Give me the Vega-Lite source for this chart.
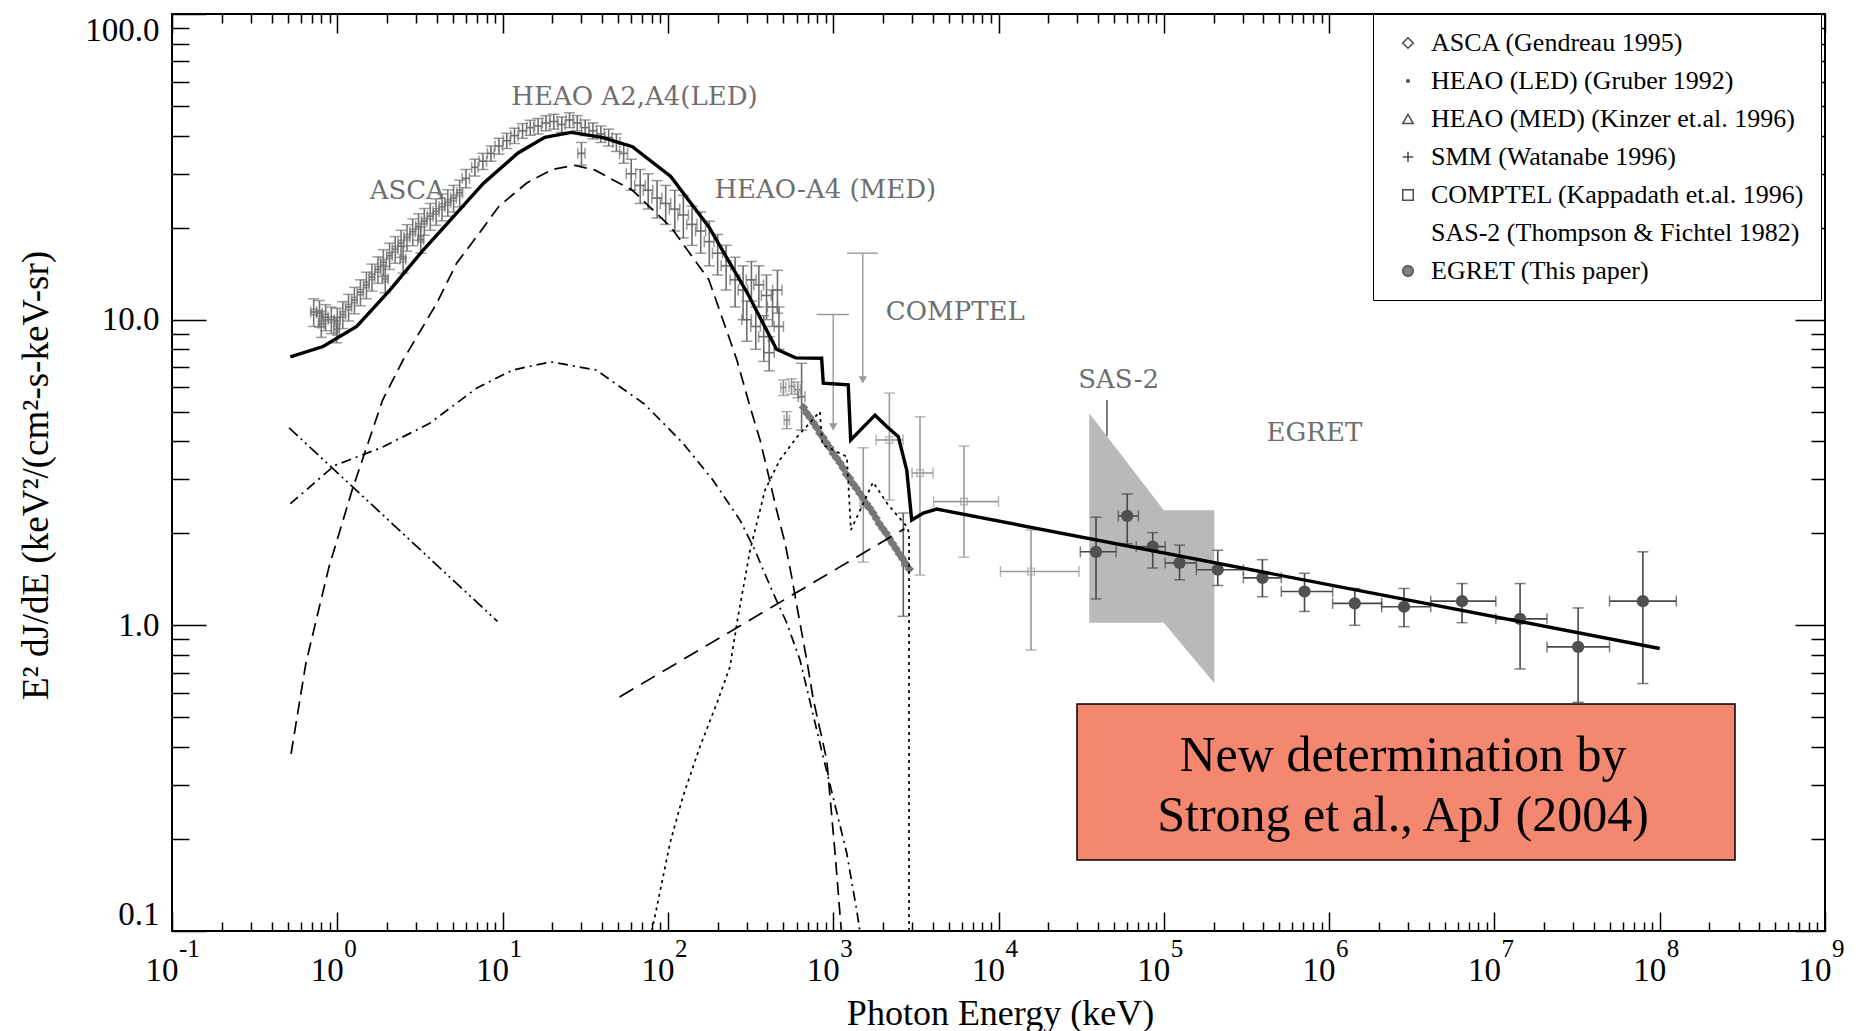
{
"$schema": "https://vega.github.io/schema/vega-lite/v6.json",
"width": 1653, "height": 917,
"autosize": {"type": "none"},
"padding": {"left": 172, "top": 14, "right": 45, "bottom": 100},
"background": "white",
"config": {
  "view": {"stroke": "black", "strokeWidth": 2},
  "axis": {"grid": false, "domain": false, "tickColor": "black", "tickWidth": 1.5, "labelColor": "black", "titleColor": "black", "labelFont": "Liberation Serif", "titleFont": "Liberation Serif", "titleFontWeight": "normal", "labelOverlap": false, "labelBound": false}
},
"datasets": {
  "sas": [{"e": 35400, "ft": 4.94, "fb": 1.02}, {"e": 100000, "ft": 2.38, "fb": 1.02}, {"e": 202000, "ft": 2.38, "fb": 0.646}],
  "ptr": [{"e": 45300, "ft": 5.46, "fb": 4.16}],
  "ul": [{"e": 1000, "ft": 10.4, "fb": 4.46, "el": 794, "eh": 1247}, {"e": 1510, "ft": 16.5, "fb": 6.35, "el": 1211, "eh": 1866}],
  "err": [
    {"s":"ASCA","e":0.72,"f":10.6,"el":0.69,"eh":0.75,"fl":9.5,"fh":11.7},
    {"s":"ASCA","e":0.78,"f":10.5,"el":0.75,"eh":0.81,"fl":9.45,"fh":11.55},
    {"s":"ASCA","e":0.8,"f":9.7,"el":0.77,"eh":0.83,"fl":8.75,"fh":10.65},
    {"s":"ASCA","e":0.85,"f":10.2,"el":0.82,"eh":0.88,"fl":9.2,"fh":11.2},
    {"s":"ASCA","e":0.92,"f":10.0,"el":0.88,"eh":0.96,"fl":9.0,"fh":11.0},
    {"s":"ASCA","e":0.99,"f":9.3,"el":0.95,"eh":1.03,"fl":8.4,"fh":10.2},
    {"s":"ASCA","e":1.0,"f":9.9,"el":0.96,"eh":1.04,"fl":8.9,"fh":10.9},
    {"s":"ASCA","e":1.08,"f":10.4,"el":1.04,"eh":1.12,"fl":9.35,"fh":11.45},
    {"s":"ASCA","e":1.17,"f":11.0,"el":1.12,"eh":1.22,"fl":9.9,"fh":12.1},
    {"s":"ASCA","e":1.27,"f":11.6,"el":1.22,"eh":1.32,"fl":10.45,"fh":12.75},
    {"s":"ASCA","e":1.38,"f":12.3,"el":1.32,"eh":1.44,"fl":11.1,"fh":13.5},
    {"s":"ASCA","e":1.5,"f":13.0,"el":1.44,"eh":1.56,"fl":11.7,"fh":14.3},
    {"s":"ASCA","e":1.62,"f":13.8,"el":1.56,"eh":1.68,"fl":12.4,"fh":15.2},
    {"s":"ASCA","e":1.76,"f":14.6,"el":1.69,"eh":1.83,"fl":13.15,"fh":16.05},
    {"s":"ASCA","e":1.9,"f":15.4,"el":1.82,"eh":1.98,"fl":13.85,"fh":16.95},
    {"s":"ASCA","e":1.95,"f":13.6,"el":1.87,"eh":2.03,"fl":12.25,"fh":14.95},
    {"s":"ASCA","e":2.07,"f":16.2,"el":1.99,"eh":2.15,"fl":14.6,"fh":17.8},
    {"s":"ASCA","e":2.24,"f":17.0,"el":2.15,"eh":2.33,"fl":15.3,"fh":18.7},
    {"s":"ASCA","e":2.43,"f":17.8,"el":2.33,"eh":2.53,"fl":16.0,"fh":19.6},
    {"s":"ASCA","e":2.5,"f":15.8,"el":2.4,"eh":2.6,"fl":14.2,"fh":17.4},
    {"s":"ASCA","e":2.64,"f":18.6,"el":2.53,"eh":2.75,"fl":16.75,"fh":20.45},
    {"s":"ASCA","e":2.86,"f":19.4,"el":2.75,"eh":2.97,"fl":17.45,"fh":21.35},
    {"s":"ASCA","e":3.1,"f":20.2,"el":2.98,"eh":3.22,"fl":18.2,"fh":22.2},
    {"s":"ASCA","e":3.2,"f":18.3,"el":3.07,"eh":3.33,"fl":16.5,"fh":20.1},
    {"s":"ASCA","e":3.36,"f":21.0,"el":3.23,"eh":3.49,"fl":18.9,"fh":23.1},
    {"s":"ASCA","e":3.65,"f":21.8,"el":3.5,"eh":3.8,"fl":19.6,"fh":24.0},
    {"s":"ASCA","e":3.96,"f":22.6,"el":3.8,"eh":4.12,"fl":20.35,"fh":24.85},
    {"s":"ASCA","e":4.3,"f":23.4,"el":4.13,"eh":4.47,"fl":21.05,"fh":25.75},
    {"s":"ASCA","e":4.66,"f":24.2,"el":4.47,"eh":4.85,"fl":21.8,"fh":26.6},
    {"s":"ASCA","e":5.05,"f":25.0,"el":4.85,"eh":5.25,"fl":22.5,"fh":27.5},
    {"s":"ASCA","e":5.5,"f":26.0,"el":5.28,"eh":5.72,"fl":23.4,"fh":28.6},
    {"s":"LED","e":6.0,"f":29,"el":5.7,"eh":6.3,"fl":27,"fh":31},
    {"s":"LED","e":6.8,"f":31.5,"el":6.5,"eh":7.1,"fl":29.5,"fh":33.5},
    {"s":"LED","e":7.6,"f":33,"el":7.2,"eh":8.0,"fl":31,"fh":35},
    {"s":"LED","e":8.5,"f":35,"el":8.1,"eh":8.9,"fl":33,"fh":37},
    {"s":"LED","e":9.5,"f":37,"el":9.0,"eh":10.0,"fl":34.8,"fh":39.2},
    {"s":"LED","e":10.6,"f":38.5,"el":10.1,"eh":11.1,"fl":36.3,"fh":40.7},
    {"s":"LED","e":11.8,"f":40,"el":11.2,"eh":12.4,"fl":37.7,"fh":42.3},
    {"s":"LED","e":13.2,"f":41.5,"el":12.5,"eh":13.9,"fl":39.2,"fh":43.8},
    {"s":"LED","e":14.7,"f":42.5,"el":14.0,"eh":15.4,"fl":40.1,"fh":44.9},
    {"s":"LED","e":16.4,"f":43,"el":15.6,"eh":17.2,"fl":40.5,"fh":45.5},
    {"s":"LED","e":18.3,"f":44,"el":17.4,"eh":19.2,"fl":41.5,"fh":46.5},
    {"s":"LED","e":20.4,"f":44.5,"el":19.4,"eh":21.4,"fl":42,"fh":47},
    {"s":"LED","e":22.8,"f":43.5,"el":21.7,"eh":23.9,"fl":41,"fh":46},
    {"s":"LED","e":25.4,"f":45,"el":24.2,"eh":26.6,"fl":42.5,"fh":47.5},
    {"s":"LED","e":28.3,"f":44,"el":27,"eh":29.6,"fl":41.5,"fh":46.5},
    {"s":"LED","e":30,"f":35,"el":28.5,"eh":31.5,"fl":32,"fh":38},
    {"s":"LED","e":31.6,"f":42.5,"el":30,"eh":33.2,"fl":40,"fh":45},
    {"s":"LED","e":35.2,"f":41.5,"el":33.5,"eh":37,"fl":39,"fh":44},
    {"s":"LED","e":39.3,"f":40.5,"el":37.3,"eh":41.3,"fl":38,"fh":43},
    {"s":"LED","e":43.8,"f":39.5,"el":41.6,"eh":46,"fl":37,"fh":42},
    {"s":"LED","e":48.8,"f":38,"el":46.4,"eh":51.2,"fl":35.5,"fh":40.5},
    {"s":"LED","e":54,"f":35,"el":51,"eh":57,"fl":32.5,"fh":37.5},
    {"s":"MED","e":60,"f":30,"el":56,"eh":64,"fl":26.5,"fh":33.5},
    {"s":"MED","e":68,"f":27.5,"el":63,"eh":73,"fl":24,"fh":31},
    {"s":"MED","e":76,"f":26.5,"el":71,"eh":81,"fl":23,"fh":30},
    {"s":"MED","e":86,"f":25,"el":80,"eh":92,"fl":21.5,"fh":28.5},
    {"s":"MED","e":97,"f":24,"el":90,"eh":104,"fl":20.5,"fh":27.5},
    {"s":"MED","e":110,"f":23,"el":102,"eh":118,"fl":19.5,"fh":26.5},
    {"s":"MED","e":124,"f":22,"el":115,"eh":133,"fl":18.5,"fh":25.5},
    {"s":"MED","e":140,"f":20.5,"el":130,"eh":150,"fl":17.5,"fh":23.5},
    {"s":"MED","e":158,"f":19.5,"el":147,"eh":169,"fl":16.5,"fh":22.5},
    {"s":"MED","e":178,"f":18,"el":166,"eh":190,"fl":15,"fh":21},
    {"s":"MED","e":200,"f":16.5,"el":186,"eh":214,"fl":14,"fh":19},
    {"s":"MED","e":225,"f":15,"el":210,"eh":240,"fl":12.5,"fh":17.5},
    {"s":"MED","e":255,"f":13.5,"el":238,"eh":272,"fl":11,"fh":16},
    {"s":"MED","e":285,"f":12.5,"el":266,"eh":304,"fl":10,"fh":15},
    {"s":"MED","e":300,"f":10,"el":280,"eh":320,"fl":8.5,"fh":11.5},
    {"s":"MED","e":320,"f":13.5,"el":298,"eh":342,"fl":11.5,"fh":15.5},
    {"s":"MED","e":340,"f":9.5,"el":317,"eh":363,"fl":8,"fh":11},
    {"s":"MED","e":355,"f":13,"el":331,"eh":379,"fl":11,"fh":15},
    {"s":"MED","e":380,"f":8.8,"el":354,"eh":406,"fl":7.3,"fh":10.3},
    {"s":"MED","e":395,"f":12,"el":368,"eh":422,"fl":10,"fh":14},
    {"s":"MED","e":410,"f":7.8,"el":380,"eh":440,"fl":6.8,"fh":8.8},
    {"s":"MED","e":430,"f":11,"el":400,"eh":460,"fl":9.5,"fh":12.5},
    {"s":"MED","e":460,"f":12.5,"el":430,"eh":490,"fl":10.5,"fh":14.5},
    {"s":"MED","e":470,"f":9.5,"el":440,"eh":500,"fl":8,"fh":11},
    {"s":"MED","e":644,"f":5.6,"el":615,"eh":675,"fl":4.35,"fh":7.2},
    {"s":"SMMp","e":500,"f":6.0,"el":482,"eh":518,"fl":5.65,"fh":6.35},
    {"s":"SMMp","e":560,"f":6.05,"el":540,"eh":580,"fl":5.7,"fh":6.4},
    {"s":"SMMp","e":610,"f":5.9,"el":588,"eh":632,"fl":5.55,"fh":6.25},
    {"s":"SMMp","e":524,"f":4.7,"el":505,"eh":543,"fl":4.4,"fh":5.0},
    {"s":"SMM","e":2655,"f":1.62,"el":2600,"eh":2710,"fl":1.07,"fh":2.33},
    {"s":"COMPTEL","e":1520,"f":2.5,"el":1480,"eh":1560,"fl":1.61,"fh":3.81},
    {"s":"COMPTEL","e":2187,"f":4.04,"el":1815,"eh":2648,"fl":2.57,"fh":5.75},
    {"s":"COMPTEL","e":3350,"f":3.15,"el":3000,"eh":4020,"fl":1.46,"fh":4.81},
    {"s":"COMPTEL","e":6180,"f":2.54,"el":4045,"eh":10000,"fl":1.67,"fh":3.86},
    {"s":"COMPTEL","e":15740,"f":1.5,"el":10280,"eh":30690,"fl":0.83,"fh":2.05},
    {"s":"EGRET","e":38900,"f":1.74,"el":31260,"eh":51500,"fl":1.22,"fh":2.26},
    {"s":"EGRET","e":60100,"f":2.28,"el":53100,"eh":70200,"fl":1.85,"fh":2.69},
    {"s":"EGRET","e":85700,"f":1.81,"el":68100,"eh":102000,"fl":1.54,"fh":2.01},
    {"s":"EGRET","e":124500,"f":1.6,"el":102000,"eh":157500,"fl":1.41,"fh":1.83},
    {"s":"EGRET","e":212000,"f":1.52,"el":157500,"eh":303000,"fl":1.35,"fh":1.76},
    {"s":"EGRET","e":395000,"f":1.43,"el":303000,"eh":514000,"fl":1.24,"fh":1.64},
    {"s":"EGRET","e":710000,"f":1.29,"el":514000,"eh":1050000,"fl":1.11,"fh":1.48},
    {"s":"EGRET","e":1430000,"f":1.18,"el":1050000,"eh":2080000,"fl":1.0,"fh":1.32},
    {"s":"EGRET","e":2840000,"f":1.15,"el":2080000,"eh":4120000,"fl":0.99,"fh":1.32},
    {"s":"EGRET","e":6370000,"f":1.2,"el":4120000,"eh":10200000,"fl":1.02,"fh":1.37},
    {"s":"EGRET","e":14300000,"f":1.05,"el":10200000,"eh":20800000,"fl":0.72,"fh":1.37},
    {"s":"EGRET","e":32100000,"f":0.85,"el":20800000,"eh":49700000,"fl":0.56,"fh":1.14},
    {"s":"EGRET","e":79100000,"f":1.2,"el":49700000,"eh":126000000,"fl":0.645,"fh":1.74}
  ],
  "smm": [
    {"e":661,"f":5.16},{"e":690,"f":4.95},{"e":724,"f":4.79},{"e":760,"f":4.6},{"e":794,"f":4.44},{"e":830,"f":4.25},{"e":871,"f":4.11},{"e":910,"f":3.95},{"e":955,"f":3.81},{"e":1000,"f":3.65},{"e":1047,"f":3.53},{"e":1100,"f":3.4},{"e":1148,"f":3.27},{"e":1200,"f":3.12},{"e":1259,"f":3.03},{"e":1320,"f":2.9},{"e":1380,"f":2.81},{"e":1450,"f":2.7},{"e":1514,"f":2.61},{"e":1590,"f":2.5},{"e":1660,"f":2.42},{"e":1740,"f":2.33},{"e":1820,"f":2.24},{"e":1900,"f":2.15},{"e":1995,"f":2.07},{"e":2090,"f":2.0},{"e":2188,"f":1.92},{"e":2290,"f":1.85},{"e":2399,"f":1.78},{"e":2510,"f":1.71},{"e":2630,"f":1.65},{"e":2750,"f":1.59},{"e":2884,"f":1.53}
  ],
  "lines": [
    {"c":"T","i":1,"e":0.52,"f":7.55},{"c":"T","i":2,"e":0.82,"f":8.17},{"c":"T","i":3,"e":1.31,"f":9.5},{"c":"T","i":4,"e":2.08,"f":12.5},{"c":"T","i":5,"e":3.31,"f":16.9},{"c":"T","i":6,"e":5.27,"f":22.3},{"c":"T","i":7,"e":7.64,"f":27.9},{"c":"T","i":8,"e":12.4,"f":35.1},{"c":"T","i":9,"e":18,"f":39.5},{"c":"T","i":10,"e":26,"f":41},{"c":"T","i":11,"e":40,"f":39.5},{"c":"T","i":12,"e":61,"f":36.8},{"c":"T","i":13,"e":104,"f":29.4},{"c":"T","i":14,"e":177,"f":20.1},{"c":"T","i":15,"e":303,"f":12.2},{"c":"T","i":16,"e":454,"f":8.0},{"c":"T","i":17,"e":593,"f":7.5},{"c":"T","i":18,"e":851,"f":7.48},{"c":"T","i":19,"e":871,"f":6.2},{"c":"T","i":20,"e":1233,"f":6.12},{"c":"T","i":21,"e":1276,"f":4.04},{"c":"T","i":22,"e":1791,"f":4.87},{"c":"T","i":23,"e":2108,"f":4.47},{"c":"T","i":24,"e":2477,"f":4.14},{"c":"T","i":25,"e":2785,"f":3.22},{"c":"T","i":26,"e":2985,"f":2.21},{"c":"T","i":27,"e":3510,"f":2.33},{"c":"T","i":28,"e":4227,"f":2.4},{"c":"T","i":29,"e":100000000,"f":0.84},
    {"c":"S","i":1,"e":0.525,"f":0.38},{"c":"S","i":2,"e":0.646,"f":0.753},{"c":"S","i":3,"e":0.89,"f":1.55},{"c":"S","i":4,"e":1.23,"f":2.77},{"c":"S","i":5,"e":1.88,"f":5.46},{"c":"S","i":6,"e":2.5,"f":7.38},{"c":"S","i":7,"e":3.99,"f":11.3},{"c":"S","i":8,"e":5.27,"f":15.3},{"c":"S","i":9,"e":6.97,"f":18.7},{"c":"S","i":10,"e":9.5,"f":23.5},{"c":"S","i":11,"e":14,"f":28},{"c":"S","i":12,"e":20,"f":31},{"c":"S","i":13,"e":27,"f":32},{"c":"S","i":14,"e":36,"f":30.9},{"c":"S","i":15,"e":61,"f":26.5},{"c":"S","i":16,"e":104,"f":20.1},{"c":"S","i":17,"e":177,"f":13.5},{"c":"S","i":18,"e":261,"f":7.4},{"c":"S","i":19,"e":314,"f":5.19},{"c":"S","i":20,"e":361,"f":4.04},{"c":"S","i":21,"e":403,"f":3.15},{"c":"S","i":22,"e":455,"f":2.38},{"c":"S","i":23,"e":511,"f":1.86},{"c":"S","i":24,"e":561,"f":1.44},{"c":"S","i":25,"e":613,"f":1.1},{"c":"S","i":26,"e":692,"f":0.77},{"c":"S","i":27,"e":759,"f":0.57},{"c":"S","i":28,"e":914,"f":0.363},{"c":"S","i":29,"e":1026,"f":0.18},{"c":"S","i":30,"e":1120,"f":0.1},
    {"c":"D","i":1,"e":0.52,"f":2.5},{"c":"D","i":2,"e":0.96,"f":3.33},{"c":"D","i":3,"e":1.86,"f":3.82},{"c":"D","i":4,"e":3.6,"f":4.57},{"c":"D","i":5,"e":7.0,"f":5.98},{"c":"D","i":6,"e":11.5,"f":6.84},{"c":"D","i":7,"e":19.6,"f":7.28},{"c":"D","i":8,"e":36.9,"f":6.84},{"c":"D","i":9,"e":72,"f":5.3},{"c":"D","i":10,"e":123,"f":3.95},{"c":"D","i":11,"e":187,"f":2.99},{"c":"D","i":12,"e":273,"f":2.21},{"c":"D","i":13,"e":336,"f":1.76},{"c":"D","i":14,"e":432,"f":1.28},{"c":"D","i":15,"e":523,"f":1.02},{"c":"D","i":16,"e":630,"f":0.77},{"c":"D","i":17,"e":851,"f":0.39},{"c":"D","i":18,"e":1207,"f":0.18},{"c":"D","i":19,"e":1387,"f":0.117},{"c":"D","i":20,"e":1450,"f":0.1},
    {"c":"B","i":1,"e":0.51,"f":4.43},{"c":"B","i":2,"e":9.31,"f":1.03},
    {"c":"L","i":1,"e":51,"f":0.583},{"c":"L","i":2,"e":2700,"f":2.07},
    {"c":"N","i":1,"e":80,"f":0.1},{"c":"N","i":2,"e":103,"f":0.194},{"c":"N","i":3,"e":123,"f":0.274},{"c":"N","i":4,"e":156,"f":0.4},{"c":"N","i":5,"e":198,"f":0.557},{"c":"N","i":6,"e":237,"f":0.73},{"c":"N","i":7,"e":265,"f":1.06},{"c":"N","i":8,"e":314,"f":1.76},{"c":"N","i":9,"e":387,"f":2.77},{"c":"N","i":10,"e":476,"f":3.48},{"c":"N","i":11,"e":604,"f":4.13},{"c":"N","i":12,"e":830,"f":5.0},{"c":"N","i":13,"e":860,"f":3.9},{"c":"N","i":14,"e":1210,"f":3.56},{"c":"N","i":15,"e":1280,"f":2.05},{"c":"N","i":16,"e":1742,"f":2.94},{"c":"N","i":17,"e":2148,"f":2.48},{"c":"N","i":18,"e":2800,"f":2.1},{"c":"N","i":19,"e":2875,"f":2.0},{"c":"N","i":20,"e":2875,"f":0.1}
  ],
  "notes": [
    {"t":"HEAO A2,A4(LED)","e":62.8,"f":53.6},
    {"t":"ASCA","e":2.65,"f":26.4},
    {"t":"HEAO-A4 (MED)","e":896,"f":26.6},
    {"t":"COMPTEL","e":5480,"f":10.6},
    {"t":"SAS-2","e":53300,"f":6.37},
    {"t":"EGRET","e":815000,"f":4.26}
  ],
  "box": [{"e":29850,"e2":285500000,"f":0.5527,"f2":0.1707}],
  "boxtext": [{"t":"New determination by","e":2800000,"f":0.3724},{"t":"Strong et al., ApJ (2004)","e":2800000,"f":0.2377}],
  "expo": [{"e":0.1,"f":0.1,"t":"-1"},{"e":1,"f":0.1,"t":"0"},{"e":10,"f":0.1,"t":"1"},{"e":100,"f":0.1,"t":"2"},{"e":1000,"f":0.1,"t":"3"},{"e":10000,"f":0.1,"t":"4"},{"e":100000,"f":0.1,"t":"5"},{"e":1000000,"f":0.1,"t":"6"},{"e":10000000,"f":0.1,"t":"7"},{"e":100000000,"f":0.1,"t":"8"},{"e":1000000000,"f":0.1,"t":"9"}]
},
"resolve": {"axis": {"x": "independent", "y": "independent"}},
"encoding": {
  "x": {"field": "e", "type": "quantitative", "scale": {"type": "log", "domain": [0.1, 1000000000]}, "axis": null},
  "y": {"field": "f", "type": "quantitative", "scale": {"type": "log", "domain": [0.1, 100]}, "axis": null}
},
"layer": [
  {"data": {"name": "sas"}, "mark": {"type": "area", "color": "#b9b9b9", "opacity": 1},
   "encoding": {
     "x": {"field": "e", "type": "quantitative", "scale": {"type": "log", "domain": [0.1, 1000000000]},
           "axis": {"orient": "top", "labels": false, "title": null, "tickCount": 40,
                    "tickSize": {"condition": {"test": "abs(log(datum.value)/LN10 - round(log(datum.value)/LN10)) < 0.001", "value": -19}, "value": -9}}},
     "y": {"field": "ft", "type": "quantitative", "scale": {"type": "log", "domain": [0.1, 100]},
           "axis": {"orient": "right", "labels": false, "title": null, "tickCount": 30,
                    "tickSize": {"condition": {"test": "abs(log(datum.value)/LN10 - round(log(datum.value)/LN10)) < 0.001", "value": -30}, "value": -14}}},
     "y2": {"field": "fb"}
   }},
  {"data": {"name": "ptr"}, "mark": {"type": "rule", "color": "#555555", "strokeWidth": 1.5},
   "encoding": {"y": {"field": "fb", "type": "quantitative", "axis": null}, "y2": {"field": "ft"}}},
  {"data": {"name": "err"}, "mark": {"type": "rule", "strokeWidth": 1.6},
   "encoding": {"y": {"field": "fl", "type": "quantitative", "axis": null}, "y2": {"field": "fh"},
     "color": {"field": "s", "type": "nominal", "scale": {"domain": ["ASCA","LED","MED","SMM","SMMp","COMPTEL","EGRET"], "range": ["#747474","#6c6c6c","#6c6c6c","#5a5a5a","#8c8c8c","#9a9a9a","#484848"]}, "legend": null}}},
  {"data": {"name": "err"}, "mark": {"type": "rule", "strokeWidth": 1.6},
   "encoding": {"x": {"field": "el", "type": "quantitative", "axis": null}, "x2": {"field": "eh"},
     "color": {"field": "s", "type": "nominal", "scale": {"domain": ["ASCA","LED","MED","SMM","SMMp","COMPTEL","EGRET"], "range": ["#747474","#6c6c6c","#6c6c6c","#5a5a5a","#8c8c8c","#9a9a9a","#484848"]}, "legend": null}}},
  {"data": {"name": "err"}, "mark": {"type": "tick", "orient": "horizontal", "size": 11, "thickness": 1.5},
   "encoding": {"y": {"field": "fl", "type": "quantitative", "axis": null},
     "color": {"field": "s", "type": "nominal", "scale": {"domain": ["ASCA","LED","MED","SMM","SMMp","COMPTEL","EGRET"], "range": ["#747474","#6c6c6c","#6c6c6c","#5a5a5a","#8c8c8c","#9a9a9a","#484848"]}, "legend": null}}},
  {"data": {"name": "err"}, "mark": {"type": "tick", "orient": "horizontal", "size": 11, "thickness": 1.5},
   "encoding": {"y": {"field": "fh", "type": "quantitative", "axis": null},
     "color": {"field": "s", "type": "nominal", "scale": {"domain": ["ASCA","LED","MED","SMM","SMMp","COMPTEL","EGRET"], "range": ["#747474","#6c6c6c","#6c6c6c","#5a5a5a","#8c8c8c","#9a9a9a","#484848"]}, "legend": null}}},
  {"data": {"name": "err"}, "mark": {"type": "tick", "orient": "vertical", "size": 11, "thickness": 1.5},
   "encoding": {"x": {"field": "el", "type": "quantitative", "axis": null},
     "color": {"field": "s", "type": "nominal", "scale": {"domain": ["ASCA","LED","MED","SMM","SMMp","COMPTEL","EGRET"], "range": ["#747474","#6c6c6c","#6c6c6c","#5a5a5a","#8c8c8c","#9a9a9a","#484848"]}, "legend": null}}},
  {"data": {"name": "err"}, "mark": {"type": "tick", "orient": "vertical", "size": 11, "thickness": 1.5},
   "encoding": {"x": {"field": "eh", "type": "quantitative", "axis": null},
     "color": {"field": "s", "type": "nominal", "scale": {"domain": ["ASCA","LED","MED","SMM","SMMp","COMPTEL","EGRET"], "range": ["#747474","#6c6c6c","#6c6c6c","#5a5a5a","#8c8c8c","#9a9a9a","#484848"]}, "legend": null}}},
  {"data": {"name": "err"}, "transform": [{"filter": "datum.s == 'ASCA'"}],
   "mark": {"type": "point", "shape": "square", "filled": false, "size": 30, "strokeWidth": 1.6, "color": "#747474"}},
  {"data": {"name": "err"}, "transform": [{"filter": "datum.s == 'COMPTEL'"}],
   "mark": {"type": "point", "shape": "square", "filled": false, "size": 45, "strokeWidth": 1.3, "color": "#9a9a9a"}},
  {"data": {"name": "smm"}, "mark": {"type": "point", "shape": "diamond", "filled": true, "size": 90, "color": "#777777", "opacity": 1}},
  {"data": {"name": "err"}, "transform": [{"filter": "datum.s == 'EGRET'"}],
   "mark": {"type": "point", "shape": "circle", "filled": true, "size": 150, "color": "#505050", "opacity": 1}},
  {"data": {"name": "ul"}, "mark": {"type": "rule", "color": "#9a9a9a", "strokeWidth": 1.4},
   "encoding": {"y": {"field": "fb", "type": "quantitative", "axis": null}, "y2": {"field": "ft"}}},
  {"data": {"name": "ul"}, "mark": {"type": "rule", "color": "#9a9a9a", "strokeWidth": 1.4},
   "encoding": {"x": {"field": "el", "type": "quantitative", "axis": null}, "x2": {"field": "eh"}, "y": {"field": "ft", "type": "quantitative", "axis": null}}},
  {"data": {"name": "ul"}, "mark": {"type": "point", "shape": "triangle-down", "filled": true, "size": 70, "color": "#9a9a9a", "opacity": 1},
   "encoding": {"y": {"field": "fb", "type": "quantitative", "axis": null}}},
  {"data": {"name": "lines"}, "transform": [{"filter": "datum.c != 'T'"}],
   "mark": {"type": "line", "color": "black", "strokeWidth": 1.7},
   "encoding": {
     "x": {"field": "e", "type": "quantitative", "scale": {"type": "log", "domain": [0.1, 1000000000]},
           "axis": {"orient": "bottom", "title": "Photon Energy (keV)", "tickCount": 40,
                    "labelExpr": "abs(log(datum.value)/LN10 - round(log(datum.value)/LN10)) < 0.001 ? '10' : ''",
                    "tickSize": {"condition": {"test": "abs(log(datum.value)/LN10 - round(log(datum.value)/LN10)) < 0.001", "value": -19}, "value": -9},
                    "labelPadding": 68, "labelBaseline": "alphabetic", "labelAlign": "right", "labelOffset": 6, "labelFontSize": 33,
                    "titleFontSize": 36, "titleX": 828, "titleY": 93, "titleBaseline": "alphabetic", "titleAlign": "center", "titleAnchor": null}},
     "y": {"field": "f", "type": "quantitative", "scale": {"type": "log", "domain": [0.1, 100]},
           "axis": {"orient": "left", "title": "E² dJ/dE (keV²/(cm²-s-keV-sr)", "tickCount": 30,
                    "labelExpr": "abs(datum.value-100)<0.000001 ? '100.0' : abs(datum.value-10)<0.000001 ? '10.0' : abs(datum.value-1)<0.000001 ? '1.0' : abs(datum.value-0.1)<0.000001 ? '0.1' : ''",
                    "tickSize": {"condition": {"test": "abs(log(datum.value)/LN10 - round(log(datum.value)/LN10)) < 0.001", "value": -34}, "value": -17},
                    "labelPadding": 47, "labelFontSize": 33, "labelFlush": true,
                    "titleFontSize": 37, "titleX": -136, "titleY": 461, "titleAngle": -90, "titleAlign": "center", "titleBaseline": "middle"}},
     "strokeDash": {"field": "c", "type": "nominal", "scale": {"domain": ["S","D","B","L","N"], "range": [[13,7],[10,5,2,5],[12,4,2,4,2,4],[16,9],[3,4]]}, "legend": null},
     "order": {"field": "i", "type": "quantitative"}
   }},
  {"data": {"name": "lines"}, "transform": [{"filter": "datum.c == 'T'"}],
   "mark": {"type": "line", "color": "black", "strokeWidth": 3.4},
   "encoding": {"order": {"field": "i", "type": "quantitative"}}},
  {"data": {"name": "notes"}, "mark": {"type": "text", "font": "DejaVu Serif", "fontSize": 26, "color": "#6e6e6e", "align": "center", "baseline": "middle"},
   "encoding": {"text": {"field": "t"}}},
  {"data": {"name": "box"}, "mark": {"type": "rect", "fill": "#f3876f", "stroke": "black", "strokeWidth": 1.5},
   "encoding": {"x2": {"field": "e2"}, "y2": {"field": "f2"}}},
  {"data": {"name": "boxtext"}, "mark": {"type": "text", "font": "Liberation Serif", "fontSize": 50, "color": "black", "align": "center", "baseline": "middle"},
   "encoding": {"text": {"field": "t"}}},
  {"data": {"name": "expo"}, "mark": {"type": "text", "font": "Liberation Serif", "fontSize": 25, "color": "black", "align": "left", "baseline": "alphabetic", "dx": 7, "dy": 26},
   "encoding": {"text": {"field": "t"}}},
  {"data": {"values": []}, "mark": {"type": "point", "strokeWidth": 1.5},
   "encoding": {
     "shape": {"field": "lg", "type": "nominal", "title": null,
       "scale": {"domain": ["ASCA (Gendreau 1995)","HEAO (LED) (Gruber 1992)","HEAO (MED) (Kinzer et.al. 1996)","SMM (Watanabe 1996)","COMPTEL (Kappadath et.al. 1996)","SAS-2 (Thompson & Fichtel 1982)","EGRET (This paper)"],
                 "range": ["diamond","M-0.25,0A0.25,0.25,0,1,1,0.25,0A0.25,0.25,0,1,1,-0.25,0Z","triangle-up","M-1,0H1M0,-1V1","square","circle","circle"]},
       "legend": {"orient": "none", "legendX": 1201, "legendY": 0, "padding": 16, "strokeColor": "black", "fillColor": "white",
                  "labelFont": "Liberation Serif", "labelFontSize": 26, "labelColor": "black", "labelLimit": 600,
                  "symbolSize": 110, "symbolStrokeWidth": 1.5, "rowPadding": 12, "labelOffset": 10, "symbolOffset": 6}},
     "fill": {"field": "lg", "type": "nominal", "title": null,
       "scale": {"domain": ["ASCA (Gendreau 1995)","HEAO (LED) (Gruber 1992)","HEAO (MED) (Kinzer et.al. 1996)","SMM (Watanabe 1996)","COMPTEL (Kappadath et.al. 1996)","SAS-2 (Thompson & Fichtel 1982)","EGRET (This paper)"],
                 "range": ["transparent","black","transparent","transparent","transparent","transparent","black"]}},
     "stroke": {"field": "lg", "type": "nominal", "title": null,
       "scale": {"domain": ["ASCA (Gendreau 1995)","HEAO (LED) (Gruber 1992)","HEAO (MED) (Kinzer et.al. 1996)","SMM (Watanabe 1996)","COMPTEL (Kappadath et.al. 1996)","SAS-2 (Thompson & Fichtel 1982)","EGRET (This paper)"],
                 "range": ["black","black","black","black","black","transparent","black"]}}
   }}
]
}
